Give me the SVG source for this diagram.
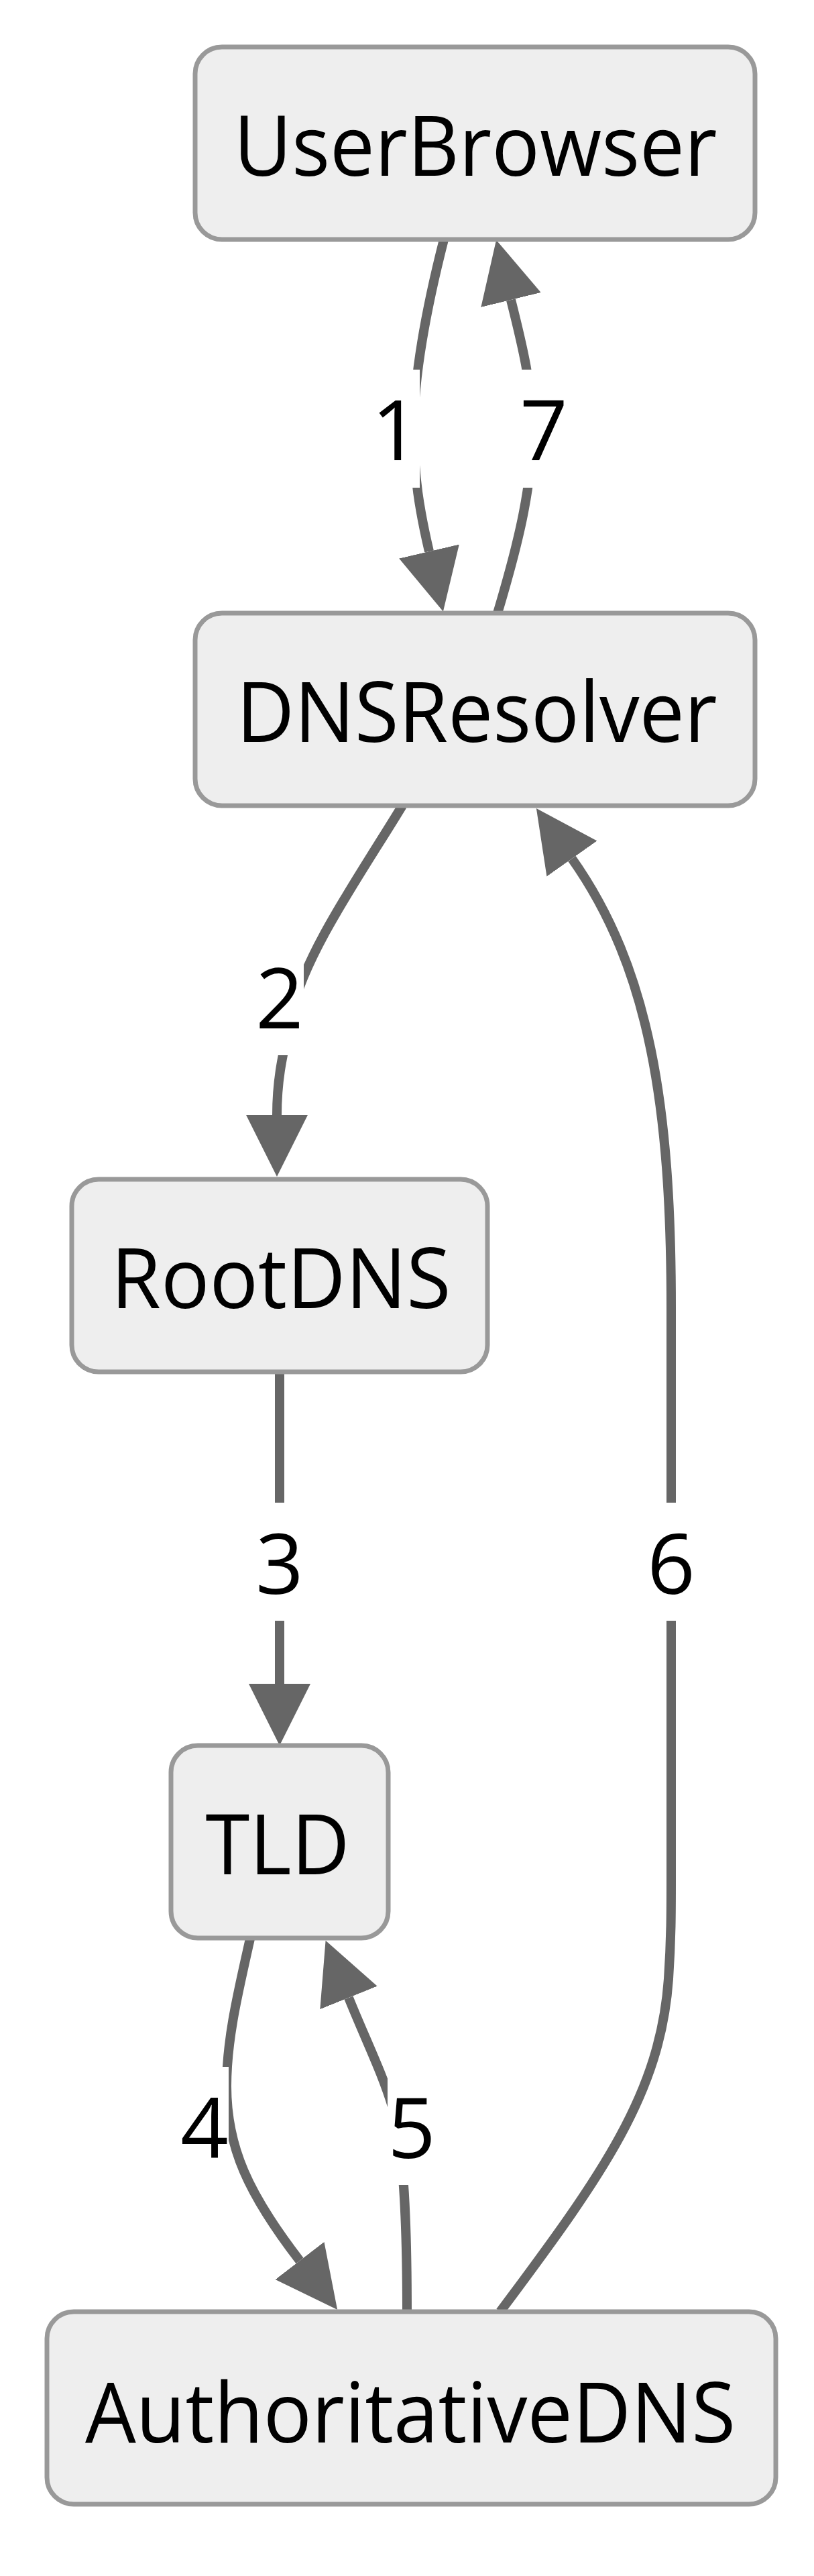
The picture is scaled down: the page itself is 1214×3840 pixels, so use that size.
<svg xmlns="http://www.w3.org/2000/svg" width="1214" height="3840" viewBox="0 0 1214 3840">
<style>
.node rect{fill:#eeeeee;stroke:#999999;stroke-width:7}
.node text,.lbl text{font-family:"Open Sans","Noto Sans","Liberation Sans",sans-serif;font-size:125px;fill:#000000;text-anchor:middle}
.edge{fill:none;stroke:#666666;stroke-width:14;marker-end:url(#arrow)}
.lbl rect{fill:#ffffff}
</style>
<defs>
<marker id="arrow" viewBox="0 0 10 10" refX="0" refY="5" markerUnits="userSpaceOnUse" markerWidth="92" markerHeight="92" orient="auto">
<path d="M0,0 L10,5 L0,10 z" fill="#666666"/>
</marker>
</defs>
<rect x="0" y="0" width="1214" height="3840" fill="#ffffff"/>
<g id="connectors">
<path id="e1" class="edge" d="M 662 357 C 637 455, 617 555, 617 640 C 617 710, 626 762, 640 822"/>
<path id="e7" class="edge" d="M 742 914 C 770 820, 794 730, 794 640 C 794 570, 775 500, 762 447"/>
<path id="e2" class="edge" d="M 600 1201 C 540 1300, 455 1420, 435 1510 C 425 1560, 413 1600, 413 1662"/>
<path id="e3" class="edge" d="M 417 2045 L 417 2510"/>
<path id="e4" class="edge" d="M 373 2890 C 355 2970, 338 3040, 338 3110 C 338 3200, 370 3270, 447 3370"/>
<path id="e5" class="edge" d="M 607 3446 C 607 3320, 603 3200, 585 3140 C 570 3090, 545 3040, 520 2978"/>
<path id="e6" class="edge" d="M 746 3446 C 900 3240, 985 3120, 997 2950 C 1001 2890, 1001 2850, 1001 2800 L 1001 1950 C 1001 1650, 969 1444, 853 1280"/>
<g class="lbl" id="l1"><rect x="554" y="551" width="72" height="176"/><text x="590" y="686">1</text></g>
<g class="lbl" id="l7"><rect x="777" y="551" width="72" height="176"/><text x="811" y="686">7</text></g>
<g class="lbl" id="l2"><rect x="381" y="1397" width="72" height="176"/><text x="417" y="1533">2</text></g>
<g class="lbl" id="l3"><rect x="381" y="2240" width="72" height="176"/><text x="417" y="2376">3</text></g>
<g class="lbl" id="l6"><rect x="965" y="2240" width="72" height="176"/><text x="1001" y="2376">6</text></g>
<g class="lbl" id="l4"><rect x="269" y="3081" width="72" height="176"/><text x="305" y="3217">4</text></g>
<g class="lbl" id="l5"><rect x="578" y="3081" width="72" height="176"/><text x="614" y="3217">5</text></g>
</g>
<g id="UserBrowser" class="node"><rect x="291" y="70" width="835" height="287" rx="40" ry="40"/><text x="709" y="262" textLength="721" lengthAdjust="spacingAndGlyphs">UserBrowser</text></g>
<g id="DNSResolver" class="node"><rect x="291" y="914" width="835" height="287" rx="40" ry="40"/><text x="711" y="1106" textLength="717" lengthAdjust="spacingAndGlyphs">DNSResolver</text></g>
<g id="RootDNS" class="node"><rect x="107" y="1758" width="620" height="287" rx="40" ry="40"/><text x="419" y="1950" textLength="507" lengthAdjust="spacingAndGlyphs">RootDNS</text></g>
<g id="TLD" class="node"><rect x="255" y="2602" width="324" height="287" rx="40" ry="40"/><text x="414" y="2794" textLength="215" lengthAdjust="spacingAndGlyphs">TLD</text></g>
<g id="AuthoritativeDNS" class="node"><rect x="70" y="3446" width="1087" height="287" rx="40" ry="40"/><text x="612" y="3641" textLength="970" lengthAdjust="spacingAndGlyphs">AuthoritativeDNS</text></g>
</svg>
